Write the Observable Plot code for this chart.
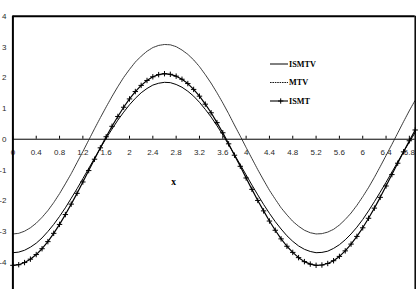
<!DOCTYPE html>
<html>
<head>
<meta charset="utf-8">
<script src="https://cdn.jsdelivr.net/npm/d3@7"></script>
<script src="https://cdn.jsdelivr.net/npm/@observablehq/plot@0.6"></script>
<style>
  body { margin: 0; background: #fff; }
  #chart { position: relative; width: 419px; height: 289px; overflow: hidden; background: #fff; }
  #chart svg.overlay { position: absolute; left: 0; top: 0; pointer-events: none; }
</style>
</head>
<body>
<div id="chart"></div>
<script>
// x categories (step 0.1)
const xs = [0, 0.1, 0.2, 0.3, 0.4, 0.5, 0.6, 0.7, 0.8, 0.9,
  1, 1.1, 1.2, 1.3, 1.4, 1.5, 1.6, 1.7, 1.8, 1.9,
  2, 2.1, 2.2, 2.3, 2.4, 2.5, 2.6, 2.7, 2.8, 2.9,
  3, 3.1, 3.2, 3.3, 3.4, 3.5, 3.6, 3.7, 3.8, 3.9,
  4, 4.1, 4.2, 4.3, 4.4, 4.5, 4.6, 4.7, 4.8, 4.9,
  5, 5.1, 5.2, 5.3, 5.4, 5.5, 5.6, 5.7, 5.8, 5.9,
  6, 6.1, 6.2, 6.3, 6.4, 6.5, 6.6, 6.7, 6.8, 6.9];

const ismtv = [-3.69, -3.67, -3.61, -3.51, -3.38, -3.21, -3.00, -2.77, -2.51, -2.23,
  -1.92, -1.61, -1.28, -0.95, -0.62, -0.29, 0.03, 0.33, 0.62, 0.88,
  1.12, 1.33, 1.51, 1.65, 1.76, 1.82, 1.85, 1.84, 1.78, 1.69,
  1.56, 1.40, 1.20, 0.97, 0.72, 0.44, 0.14, -0.18, -0.50, -0.83,
  -1.16, -1.49, -1.81, -2.12, -2.41, -2.68, -2.92, -3.14, -3.32, -3.47,
  -3.58, -3.65, -3.69, -3.68, -3.64, -3.55, -3.43, -3.27, -3.08, -2.86,
  -2.61, -2.33, -2.03, -1.72, -1.40, -1.07, -0.74, -0.41, -0.09, 0.22];

const mtv = [-3.08, -3.06, -2.99, -2.88, -2.73, -2.54, -2.32, -2.06, -1.77, -1.45,
  -1.12, -0.76, -0.40, -0.03, 0.34, 0.70, 1.05, 1.39, 1.71, 2.01,
  2.27, 2.51, 2.70, 2.86, 2.98, 3.05, 3.08, 3.07, 3.01, 2.90,
  2.76, 2.58, 2.36, 2.10, 1.82, 1.51, 1.18, 0.83, 0.46, 0.10,
  -0.27, -0.63, -0.99, -1.33, -1.66, -1.95, -2.23, -2.46, -2.67, -2.83,
  -2.96, -3.04, -3.08, -3.07, -3.02, -2.93, -2.79, -2.61, -2.40, -2.15,
  -1.87, -1.57, -1.24, -0.89, -0.53, -0.17, 0.20, 0.57, 0.93, 1.27];

const ismt = [-4.10, -4.08, -4.01, -3.90, -3.75, -3.56, -3.33, -3.06, -2.77, -2.45,
  -2.11, -1.76, -1.39, -1.02, -0.65, -0.28, 0.08, 0.42, 0.74, 1.04,
  1.31, 1.55, 1.75, 1.91, 2.03, 2.10, 2.13, 2.11, 2.05, 1.95,
  1.81, 1.62, 1.40, 1.14, 0.86, 0.54, 0.21, -0.15, -0.52, -0.88,
  -1.26, -1.63, -1.99, -2.33, -2.66, -2.96, -3.24, -3.48, -3.68, -3.85,
  -3.98, -4.06, -4.10, -4.09, -4.04, -3.95, -3.81, -3.63, -3.41, -3.16,
  -2.88, -2.57, -2.24, -1.89, -1.52, -1.15, -0.78, -0.41, -0.05, 0.30];

const xTicks = [0, 0.4, 0.8, 1.2, 1.6, 2, 2.4, 2.8, 3.2, 3.6, 4, 4.4, 4.8, 5.2, 5.6, 6, 6.4, 6.8];
const yTicks = [-4, -3, -2, -1, 0, 1, 2, 3, 4];

const seriesNames = ["ISMTV", "MTV", "ISMT"];
const axisTitle = "x";

const rows = xs.map((x, i) => ({x, ismtv: ismtv[i], mtv: mtv[i], ismt: ismt[i]}));

// open "+" marker drawn with strokes
const plusSymbol = {
  draw(ctx, size) {
    const r = Math.sqrt(size / Math.PI);
    ctx.moveTo(-r, 0); ctx.lineTo(r, 0);
    ctx.moveTo(0, -r); ctx.lineTo(0, r);
  }
};

const labelFont = {fontSize: 8, fill: "#2a2a2a"};

const chart = Plot.plot({
  width: 419,
  height: 289,
  marginLeft: 12.4,
  marginRight: 4.3,
  marginTop: 15.7,
  marginBottom: 0,
  style: {fontFamily: "'Liberation Sans', Arial, sans-serif", background: "#fff", overflow: "visible"},
  x: {domain: [0, 6.9], range: [12.4, 414.7], axis: null},
  y: {domain: [-5, 4], range: [292.5, 15.7], axis: null},
  marks: [
    // zero line with tick marks above it
    Plot.ruleY([0], {stroke: "#000", strokeWidth: 1}),
    Plot.ruleX(xTicks, {x: d => d, y1: 0, y2: 0, insetTop: -3, stroke: "#000", strokeWidth: 1}),
    Plot.text(xTicks, {x: d => d, y: 0, dy: 13, text: d => String(d), ...labelFont}),
    // y tick labels
    Plot.text(yTicks, {x: 0, y: d => d, dx: -6.5, textAnchor: "end", text: d => String(d), ...labelFont}),
    // series
    Plot.line(rows, {x: "x", y: "mtv", stroke: "#222", strokeWidth: 0.9, strokeDasharray: "1.6,0.8"}),
    Plot.line(rows, {x: "x", y: "ismtv", stroke: "#000", strokeWidth: 1}),
    Plot.line(rows, {x: "x", y: "ismt", stroke: "#000", strokeWidth: 1.2}),
    Plot.dot(rows, {x: "x", y: "ismt", symbol: plusSymbol, r: 2.7, stroke: "#000", fill: "none", strokeWidth: 1}),
    // plot area borders
    Plot.ruleX([0], {stroke: "#000", strokeWidth: 2}),
    Plot.ruleY([4], {stroke: "#000", strokeWidth: 2}),
    Plot.ruleX([6.9], {stroke: "#000", strokeWidth: 1.5})
  ]
});

const host = document.getElementById("chart");
host.appendChild(chart);

// legend and axis title overlay
const ov = d3.select(host).append("svg")
  .attr("class", "overlay")
  .attr("width", 419).attr("height", 289)
  .style("font-family", "'Liberation Serif', 'Times New Roman', serif")
  .style("font-weight", "bold");

const legendY = [64, 82.5, 101];
const styles = [
  {dash: null, width: 1},
  {dash: "1.6,0.8", width: 0.9},
  {dash: null, width: 1.1, plus: true}
];
seriesNames.forEach((name, i) => {
  const y = legendY[i];
  ov.append("line")
    .attr("x1", 270).attr("x2", 288).attr("y1", y).attr("y2", y)
    .attr("stroke", "#000").attr("stroke-width", styles[i].width)
    .attr("stroke-dasharray", styles[i].dash);
  if (styles[i].plus) {
    ov.append("path")
      .attr("d", `M${280.7 - 2.7},${y}h5.4M280.7,${y - 2.7}v5.4`)
      .attr("stroke", "#000").attr("stroke-width", 1);
  }
  ov.append("text")
    .attr("x", 289).attr("y", y).attr("dy", "0.34em")
    .attr("font-size", 8.2).attr("fill", "#000")
    .text(name);
});

ov.append("text")
  .attr("x", 173.7).attr("y", 181.7).attr("dy", "0.3em")
  .attr("text-anchor", "middle")
  .attr("font-size", 9.5).attr("fill", "#000")
  .text(axisTitle);
</script>
</body>
</html>
